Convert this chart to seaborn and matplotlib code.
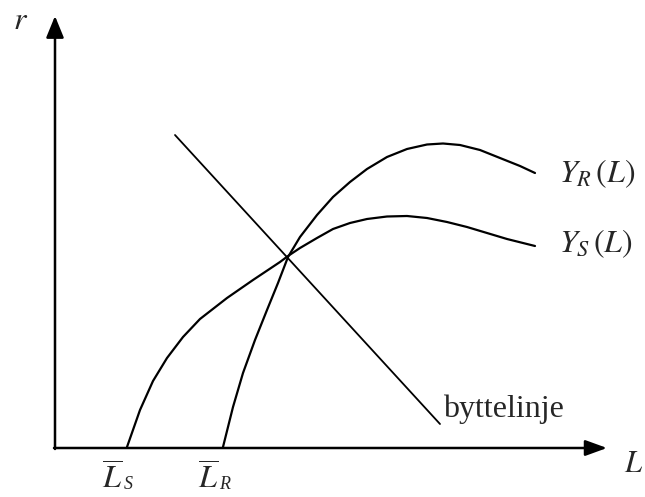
import matplotlib
matplotlib.use("Agg")
import matplotlib.pyplot as plt
import seaborn as sns
import pandas as pd

sns.set_theme(style="white")
plt.rcParams['font.family'] = ['Liberation Serif', 'DejaVu Serif']
plt.rcParams['mathtext.fontset'] = 'stix'

# Curves (pixel-like units, y downward)
ys_x = [127, 140, 153, 167, 183, 200, 227, 253, 280, 288, 300, 317, 333, 350, 367, 387, 407, 427, 447, 467, 487, 507, 535]
ys_y = [447, 410, 381, 358, 337, 319, 298, 280, 262, 256, 248, 238, 229, 223, 219, 216.5, 216, 218, 222, 227, 233, 239, 246]

yr_x = [223, 233, 243, 255, 267, 278, 288, 300, 317, 333, 350, 367, 387, 407, 427, 443, 460, 480, 500, 520, 535]
yr_y = [447, 407, 373, 340, 310, 283, 257, 237, 215, 197, 182, 169, 157, 149, 144.5, 143.5, 145, 150, 158, 166, 173]

bl_x = [175, 440]
bl_y = [135, 424]

frames = pd.concat([
    pd.DataFrame({"x": ys_x, "y": ys_y, "curve": "Ys"}),
    pd.DataFrame({"x": yr_x, "y": yr_y, "curve": "Yr"}),
    pd.DataFrame({"x": bl_x, "y": bl_y, "curve": "bl"}),
])
widths = {"Ys": 1.6, "Yr": 1.6, "bl": 1.3}

fig = plt.figure(figsize=(6.45, 4.97), dpi=100)
ax = fig.add_axes([0, 0, 1, 1])
ax.set_xlim(0, 645)
ax.set_ylim(497, 0)
ax.axis('off')

for name, g in frames.groupby("curve"):
    sns.lineplot(data=g, x="x", y="y", sort=False, estimator=None, color="black",
                 linewidth=widths[name], ax=ax, legend=False)

# axes with arrows
ax.annotate("", xy=(55, 16), xytext=(55, 449),
            arrowprops=dict(arrowstyle="-|>,head_length=1.1,head_width=0.45", color="black", lw=1.8, shrinkA=0, shrinkB=0))
ax.annotate("", xy=(607, 448), xytext=(54, 448),
            arrowprops=dict(arrowstyle="-|>,head_length=1.1,head_width=0.4", color="black", lw=1.8, shrinkA=0, shrinkB=0))

fs = 23
ax.text(13, 29, "$r$", fontsize=fs, ha="left", va="baseline")
ax.text(624, 472, "$L$", fontsize=22, ha="left", va="baseline")
ax.text(559, 182, r"$Y_R\,(L)$", fontsize=fs, ha="left", va="baseline")
ax.text(559, 252, r"$Y_S\,(L)$", fontsize=fs, ha="left", va="baseline")
ax.text(443, 417, "byttelinje", fontsize=fs, ha="left", va="baseline")
ax.text(102, 489, r"$\overline{L}$", fontsize=fs, ha="left", va="baseline")
ax.text(124, 489, "S", fontsize=13, style="italic", ha="left", va="baseline")
ax.text(198, 489, r"$\overline{L}$", fontsize=fs, ha="left", va="baseline")
ax.text(219, 489, "R", fontsize=13, style="italic", ha="left", va="baseline")

fig.savefig("out.png", dpi=100)
